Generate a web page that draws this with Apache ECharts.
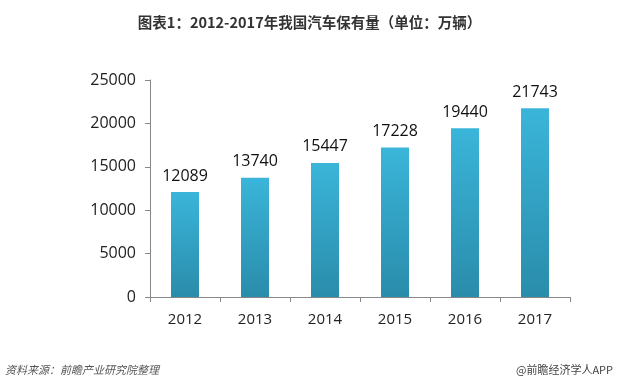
<!DOCTYPE html>
<html><head><meta charset="utf-8">
<script src="https://cdn.jsdelivr.net/npm/echarts@6/dist/echarts.min.js"></script>
<style>html,body{margin:0;padding:0;background:#fff}#c{width:619px;height:391px}</style>
</head><body><div id="c"></div>
<script>
const categories = ['2012','2013','2014','2015','2016','2017'];
const values = [12089, 13740, 15447, 17228, 19440, 21743];
const yTicks = [0, 5000, 10000, 15000, 20000, 25000];
const titleText = '图表1：2012-2017年我国汽车保有量（单位：万辆）';
const sourceText = '资料来源：前瞻产业研究院整理';
const brandText = '@前瞻经济学人APP';

const chart = echarts.init(document.getElementById('c'), null, {renderer:'canvas'});
chart.setOption({
  animation: false,
  backgroundColor: '#fff',
  title: {
    text: titleText, left: 'center', top: 10,
    textStyle: {fontSize: 14.5, fontWeight: 'bold', color: '#333', fontFamily: '"Noto Sans CJK SC", sans-serif'}
  },
  graphic: [
    {type:'text', left: 5, top: 364, style:{text: sourceText, fill:'#555', font:'italic 11px "Noto Sans CJK SC", sans-serif'}},
    {type:'text', right: 6, top: 364, style:{text: brandText, fill:'#444', font:'11px "Noto Sans CJK SC", sans-serif'}}
  ],
  grid: {left: 150, top: 80, right: 49, bottom: 94},
  xAxis: {
    type: 'category', data: categories,
    axisLine: {lineStyle: {color: '#888'}},
    axisTick: {show: true, alignWithLabel: false, length: 5, lineStyle:{color:'#888'}},
    axisLabel: {color: '#222', fontSize: 15, margin: 15, fontFamily: '"Open Sans", sans-serif'}
  },
  yAxis: {
    type: 'value', min: yTicks[0], max: yTicks[yTicks.length-1], interval: 5000,
    axisLine: {show: true, lineStyle: {color: '#888'}},
    axisTick: {show: true, length: 5, lineStyle:{color:'#888'}},
    splitLine: {show: false},
    axisLabel: {color: '#222', fontSize: 16, margin: 14, fontFamily: '"Open Sans", sans-serif',
      formatter: function (v) { return String(v); }}
  },
  series: [{
    type: 'bar', data: values, barWidth: 28,
    itemStyle: {color: new echarts.graphic.LinearGradient(0,0,0,1,[
      {offset:0, color:'#3ab5d9'}, {offset:1, color:'#2a8cab'}])},
    label: {show: true, position: 'top', distance: 8, color: '#111', fontSize: 16, fontFamily: '"Open Sans", sans-serif'}
  }]
});
</script></body></html>
